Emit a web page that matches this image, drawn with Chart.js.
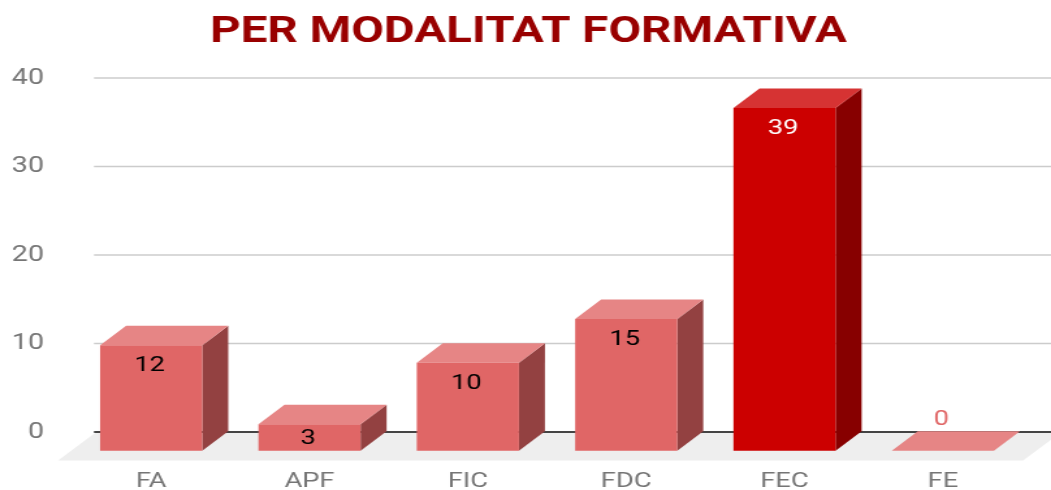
<!DOCTYPE html>
<html>
<head>
<meta charset="utf-8">
<script src="https://cdn.jsdelivr.net/npm/chart.js@4"></script>
<style>
html, body { margin: 0; padding: 0; background: #fff; overflow: hidden; }
#wrap { width: 808px; height: 490px; transform-origin: 0 0; transform: scale(1.3008, 1); }
canvas { display: block; }
</style>
</head>
<body>
<div id="wrap"><canvas id="chart" width="808" height="490"></canvas></div>
<script>
var categories = ['FA', 'APF', 'FIC', 'FDC', 'FEC', 'FE'];
var values = [12, 3, 10, 15, 39, 0];
var yTicks = [0, 10, 20, 30, 40];

// the source picture is stretched sideways, so x distances are divided by this
var SX = 1051 / 808;
var DEPTH_X = 26 / SX, DEPTH_Y = 19.5;
var DROP = 18.7;      // front plane sits this far below the back wall
var FRONT_K = 0.993;  // front plane has a slightly shorter y scale

function pickColor(value, low, high) { return value === Math.max.apply(null, values) ? high : low; }
function frontColor(v) { return pickColor(v, '#E06666', '#CC0000'); }
function topColor(v) { return pickColor(v, '#E68585', '#D63333'); }
function sideColor(v) { return pickColor(v, '#934141', '#870000'); }

function poly(ctx, pts, color) {
    ctx.fillStyle = color;
    ctx.beginPath();
    ctx.moveTo(pts[0][0], pts[0][1]);
    for (var i = 1; i < pts.length; i++) ctx.lineTo(pts[i][0], pts[i][1]);
    ctx.closePath();
    ctx.fill();
}

function frontY(bar) { return bar.base + DROP + (bar.y - bar.base) * FRONT_K; }

var box3d = {
    id: 'box3d',
    afterLayout: function(chart) {
        // tick labels are clipped to the axis box, widen it to the canvas edge
        chart.scales.y.left = 0;
    },
    beforeDatasetsDraw: function(chart) {
        var ctx = chart.ctx, area = chart.chartArea, y = chart.scales.y;
        var zero = y.getPixelForValue(0);
        var backLeft = area.left + 22 / SX;

        // floor
        var fl = area.left - 14 / SX, fr = area.right + 1 / SX;
        poly(ctx, [[fl, zero + 28.5], [fr, zero + 28.5], [fr + 37 / SX, zero + 1], [fl + 37 / SX, zero + 1]], '#EEEEEE');

        // grid lines sit on the back wall
        yTicks.forEach(function(t) {
            var py = y.getPixelForValue(t);
            ctx.strokeStyle = t === 0 ? '#444444' : '#CCCCCC';
            ctx.lineWidth = t === 0 ? 2 : 1.6;
            ctx.beginPath();
            ctx.moveTo(backLeft, py);
            ctx.lineTo(chart.width, py);
            ctx.stroke();
        });

        // side and top faces
        chart.getDatasetMeta(0).data.forEach(function(bar, i) {
            var v = values[i];
            var l = bar.x - bar.width / 2, r = bar.x + bar.width / 2;
            var t = frontY(bar), b = bar.base + DROP;
            if (v > 0) poly(ctx, [[r, t], [r + DEPTH_X, t - DEPTH_Y], [r + DEPTH_X, b - DEPTH_Y], [r, b]], sideColor(v));
            poly(ctx, [[l, t], [r, t], [r + DEPTH_X, t - DEPTH_Y], [l + DEPTH_X, t - DEPTH_Y]], topColor(v));
        });

        // front faces: the library's own bars, pushed forward to the front plane
        var base = y.getPixelForValue(0);
        ctx.save();
        ctx.translate(0, base + DROP);
        ctx.scale(1, FRONT_K);
        ctx.translate(0, -base);
    },
    afterDatasetsDraw: function(chart) {
        var ctx = chart.ctx;
        ctx.restore();

        ctx.save();
        ctx.font = '21px Roboto';
        ctx.textAlign = 'center';
        ctx.textBaseline = 'middle';
        chart.getDatasetMeta(0).data.forEach(function(bar, i) {
            var v = values[i];
            var t = frontY(bar), b = bar.base + DROP;
            var x = bar.x - 1.5 / SX;
            if (v === 0) {
                ctx.fillStyle = '#E06666';
                ctx.fillText(v, x, t - 31);
            } else {
                ctx.fillStyle = v === Math.max.apply(null, values) ? '#FFFFFF' : '#000000';
                ctx.fillText(v, x, Math.min(t + 21, (t + b) / 2 + 1));
            }
        });
        ctx.restore();
    }
};

new Chart(document.getElementById('chart').getContext('2d'), {
    type: 'bar',
    data: {
        labels: categories,
        datasets: [{
            data: values,
            backgroundColor: values.map(frontColor),
            borderWidth: 0,
            barPercentage: 0.645,
            categoryPercentage: 1,
            clip: false
        }]
    },
    plugins: [box3d],
    options: {
        responsive: false,
        animation: false,
        devicePixelRatio: 1,
        layout: { padding: { left: 35 / SX, right: 29 / SX, top: 0, bottom: 0 } },
        plugins: {
            legend: { display: false },
            tooltip: { enabled: false },
            title: {
                display: true,
                text: 'PER MODALITAT FORMATIVA',
                color: '#990000',
                font: { family: 'Roboto', size: 36.5, weight: 'bold', lineHeight: 1 },
                padding: { top: 15, bottom: 26.5 }
            }
        },
        scales: {
            x: {
                grid: { display: false },
                border: { display: false },
                afterFit: function(scale) { scale.height = 58; },
                ticks: { color: '#757575', font: { family: 'Roboto', size: 21 }, padding: 29, maxRotation: 0 }
            },
            y: {
                min: 0,
                max: 40,
                afterFit: function(scale) { scale.width = 37 / SX; },
                grid: { display: false, drawTicks: false },
                border: { display: false },
                ticks: { stepSize: 10, color: '#757575', font: { family: 'Roboto', size: 22 }, padding: 28 / SX }
            }
        }
    }
});
</script>
</body>
</html>
